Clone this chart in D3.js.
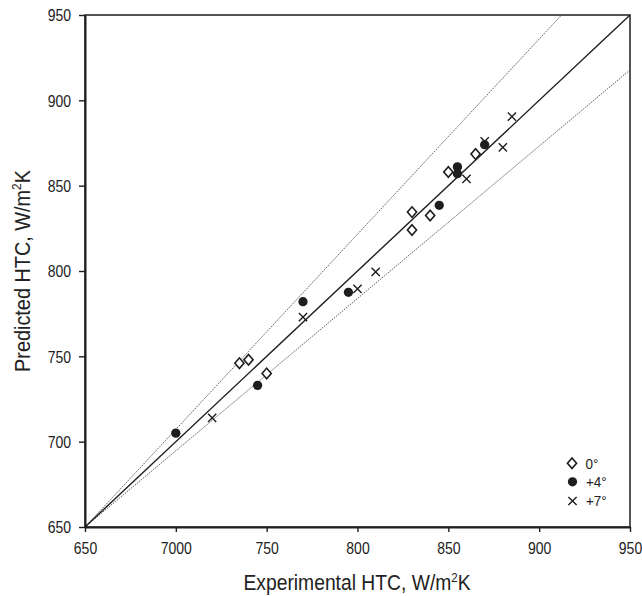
<!DOCTYPE html>
<html><head><meta charset="utf-8">
<script src="https://cdn.jsdelivr.net/npm/d3@7"></script>
<style>
body{margin:0;background:#fff}
text{font-family:"Liberation Sans",Arial,sans-serif;fill:#222}
</style></head>
<body><svg id="c" width="642" height="596"></svg>
<script>
// ---- data ----
const xTicks = [650, 700, 750, 800, 850, 900, 950];
const xTickLabels = ["650", "7000", "750", "800", "850", "900", "950"];
const yTicks = [650, 700, 750, 800, 850, 900, 950];
const yTickLabels = ["650", "700", "750", "800", "850", "900", "950"];

const s0_x = [735, 740, 750, 830, 830, 840, 850, 865];
const s0_y = [746, 748, 740, 834.5, 824, 832.5, 858, 868.5];

const s4_x = [700, 745, 770, 795, 845, 855, 855, 870];
const s4_y = [705, 733, 782, 787.5, 838.5, 861, 857, 874];

const s7_x = [720, 770, 800, 810, 860, 870, 880, 885];
const s7_y = [714, 773, 789.5, 799.5, 854, 876, 872.5, 890.5];

const seriesNames = ["0°", "+4°", "+7°"];

const parityX = [650, 950], parityY = [650, 950];
const upperX = [650, 912.3], upperY = [650, 950];
const lowerX = [650, 950], lowerY = [650, 917.8];

// ---- chart ----
const svg = d3.select("#c");
const L = 85, R = 630, T = 15, B = 527;
const x = d3.scaleLinear([650, 950], [L, R]);
const y = d3.scaleLinear([650, 950], [B, T]);
const ink = "#1e1e1e";
const sy = 1.15;

// reference lines
const line = d3.line().x(d => x(d[0])).y(d => y(d[1]));
function drawLine(xs, ys, style) {
  const p = svg.append("path").datum(d3.zip(xs, ys)).attr("d", line).attr("fill", "none");
  Object.entries(style).forEach(([k, v]) => p.attr(k, v));
}
drawLine(upperX, upperY, {stroke: "#555", "stroke-width": 0.9, "stroke-dasharray": "1.6,1"});
drawLine(lowerX, lowerY, {stroke: "#555", "stroke-width": 0.9, "stroke-dasharray": "1.6,1"});
drawLine(parityX, parityY, {stroke: ink, "stroke-width": 1.4});

// frame
svg.append("rect").attr("x", L).attr("y", T).attr("width", R - L).attr("height", B - T)
  .attr("fill", "none").attr("stroke", ink).attr("stroke-width", 1.5);

// axes
const gx = svg.append("g").attr("transform", `translate(0,${B})`)
  .call(d3.axisBottom(x).tickValues(xTicks).tickFormat((d, i) => xTickLabels[i]).tickSize(5).tickSizeOuter(0));
const gy = svg.append("g").attr("transform", `translate(${L},0)`)
  .call(d3.axisLeft(y).tickValues(yTicks).tickFormat((d, i) => yTickLabels[i]).tickSize(6).tickSizeOuter(0));
[gx, gy].forEach(g => {
  g.select(".domain").attr("stroke", ink).attr("stroke-width", 2);
  g.selectAll(".tick line").attr("stroke", ink).attr("stroke-width", 1.4);
  g.selectAll("text").attr("font-size", 14).attr("fill", "#222")
    .attr("font-family", "'Liberation Sans', Arial, sans-serif");
});
gx.selectAll(".tick text").attr("y", 0).attr("dy", 0).attr("transform", `translate(0,26.5) scale(1,${sy})`);
gy.selectAll(".tick text").attr("x", 0).attr("dy", 0).attr("text-anchor", "end")
  .attr("transform", `translate(-14,5.8) scale(1,${sy})`);

// axis titles
const xt = svg.append("text").attr("transform", `translate(357,590) scale(1,${sy})`)
  .attr("text-anchor", "middle").attr("font-size", 19.3);
xt.append("tspan").text("Experimental HTC, W/m");
xt.append("tspan").text("2").attr("font-size", 11.5).attr("dy", -7);
xt.append("tspan").text("K").attr("dy", 7);

const yt = svg.append("text").attr("transform", `translate(29.5,${(T + B) / 2}) rotate(-90) scale(1.03,${sy})`)
  .attr("text-anchor", "middle").attr("font-size", 19.3);
yt.append("tspan").text("Predicted HTC, W/m");
yt.append("tspan").text("2").attr("font-size", 11.5).attr("dy", -7);
yt.append("tspan").text("K").attr("dy", 7);

// markers
const diamond = d3.symbol(d3.symbolSquare, 42)();
const circle = d3.symbol(d3.symbolCircle, 68)();
const times = d3.symbol(d3.symbolTimes, 46)();

function drawSeries(xs, ys, kind) {
  const g = svg.append("g");
  const pts = d3.zip(xs, ys);
  if (kind === 0) {
    g.selectAll("path").data(pts).join("path")
      .attr("d", diamond)
      .attr("transform", d => `translate(${x(d[0])},${y(d[1])}) scale(1,${sy}) rotate(45)`)
      .attr("fill", "#fff").attr("stroke", ink).attr("stroke-width", 1.5);
  } else if (kind === 1) {
    g.selectAll("path").data(pts).join("path")
      .attr("d", circle)
      .attr("transform", d => `translate(${x(d[0])},${y(d[1])})`)
      .attr("fill", ink);
  } else {
    g.selectAll("path").data(pts).join("path")
      .attr("d", times)
      .attr("transform", d => `translate(${x(d[0])},${y(d[1])})`)
      .attr("fill", "none").attr("stroke", ink).attr("stroke-width", 1.4);
  }
}
drawSeries(s0_x, s0_y, 0);
drawSeries(s4_x, s4_y, 1);
drawSeries(s7_x, s7_y, 2);

// legend
const legY = [463.3, 481.8, 501];
const lg = svg.append("g");
seriesNames.forEach((name, i) => {
  const cy = legY[i];
  if (i === 0) lg.append("path").attr("d", diamond)
    .attr("transform", `translate(572,${cy}) scale(1,${sy}) rotate(45)`)
    .attr("fill", "#fff").attr("stroke", ink).attr("stroke-width", 1.5);
  else if (i === 1) lg.append("path").attr("d", circle).attr("transform", `translate(572.5,${cy})`).attr("fill", ink);
  else lg.append("path").attr("d", times).attr("transform", `translate(572.5,${cy})`)
    .attr("fill", "none").attr("stroke", ink).attr("stroke-width", 1.4);
  lg.append("text").attr("transform", `translate(${i === 0 ? 585.5 : 586} ,${cy + 5.2}) scale(1,${sy})`)
    .attr("font-size", 13.5).text(name);
});
</script></body></html>
